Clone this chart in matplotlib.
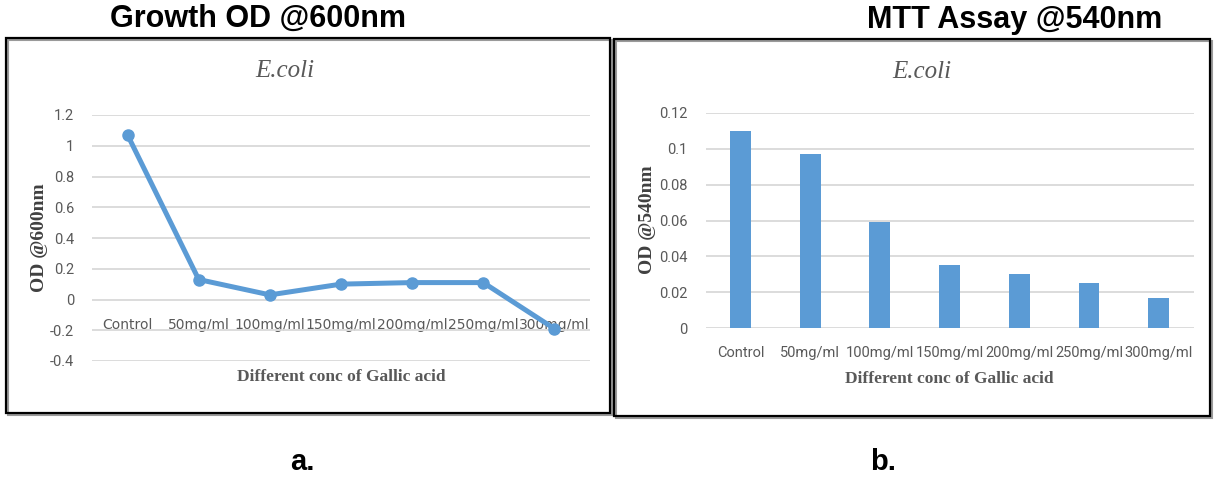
import matplotlib.pyplot as plt
from matplotlib.patches import Rectangle

# Concentrations of gallic acid and measured optical densities
categories = ["Control", "50mg/ml", "100mg/ml", "150mg/ml", "200mg/ml", "250mg/ml", "300mg/ml"]
growth_od600 = [1.07, 0.13, 0.03, 0.10, 0.11, 0.11, -0.19]
mtt_od540 = [0.110, 0.097, 0.059, 0.035, 0.030, 0.025, 0.017]

blue = "#5B9BD5"
grid_c = "#D9D9D9"
txt_c = "#595959"

tick_font = "Roboto"
serif = "Liberation Serif"
sans = "Liberation Sans"

W, H = 1214, 479
fig = plt.figure(figsize=(W / 100, H / 100), dpi=100)


def fx(px):
    return px / W


def fy(py):
    return 1 - py / H


def box(x0, y0, x1, y1):
    # gray shadow then the black frame
    fig.patches.append(Rectangle((fx(x0 + 2), fy(y1 + 2)), fx(x1 - x0), (y1 - y0) / H,
                                 transform=fig.transFigure, fill=False, ec="#9a9a9a", lw=1.5))
    fig.patches.append(Rectangle((fx(x0), fy(y1)), fx(x1 - x0), (y1 - y0) / H,
                                 transform=fig.transFigure, fill=False, ec="black", lw=1.6))


box(6, 38, 610, 413)
box(614, 39, 1210, 416)


def style_axes(ax):
    for s in ["top", "right", "left", "bottom"]:
        ax.spines[s].set_visible(False)
    ax.grid(axis="y", color=grid_c, lw=1.3)
    ax.set_axisbelow(True)
    ax.tick_params(axis="both", length=0, labelcolor=txt_c)
    for lab in ax.get_yticklabels():
        lab.set_fontfamily(tick_font)
        lab.set_fontsize(10.5)
    ax.set_xticks(range(len(categories)))
    ax.set_xticklabels(categories, fontfamily=tick_font, fontsize=10.5, color=txt_c)
    ax.set_xlim(-0.5, len(categories) - 0.5)


# a. growth curve
ax1 = fig.add_axes([fx(92), fy(361), fx(590 - 92), (361 - 115) / H])
ax1.plot(range(len(categories)), growth_od600, color=blue, lw=3.6, marker="o", ms=8)
ax1.set_ylim(-0.4, 1.2)
ax1.set_yticks([-0.4, -0.2, 0, 0.2, 0.4, 0.6, 0.8, 1, 1.2])
ax1.set_yticklabels(["-0.4", "-0.2", "0", "0.2", "0.4", "0.6", "0.8", "1", "1.2"])
style_axes(ax1)
ax1.tick_params(axis="y", pad=13)
ax1.spines["bottom"].set_position(("data", 0))
ax1.tick_params(axis="x", pad=13)

fig.text(fx(285), fy(71), "E.coli", family=serif, style="italic", fontsize=18,
         color=txt_c, ha="center", va="center")
fig.text(fx(40), fy(238), "OD @600nm", family=serif, weight="bold", fontsize=14,
         color="#404040", rotation=90, ha="center", va="center")
fig.text(fx(341), fy(377), "Different conc of Gallic acid", family=serif, weight="bold",
         fontsize=12.5, color=txt_c, ha="center", va="center")

# b. MTT assay bars
ax2 = fig.add_axes([fx(705.5), fy(328), fx(1193.6 - 705.5), (328 - 113) / H])
ax2.bar(range(len(categories)), mtt_od540, width=0.3, color=blue)
ax2.set_ylim(0, 0.12)
ax2.set_yticks([0, 0.02, 0.04, 0.06, 0.08, 0.1, 0.12])
ax2.set_yticklabels(["0", "0.02", "0.04", "0.06", "0.08", "0.1", "0.12"])
style_axes(ax2)
ax2.tick_params(axis="y", pad=13)
ax2.tick_params(axis="x", pad=13)

fig.text(fx(922), fy(72), "E.coli", family=serif, style="italic", fontsize=18,
         color=txt_c, ha="center", va="center")
fig.text(fx(647), fy(220), "OD @540nm", family=serif, weight="bold", fontsize=14,
         color="#404040", rotation=90, ha="center", va="center")
fig.text(fx(949), fy(379), "Different conc of Gallic acid", family=serif, weight="bold",
         fontsize=12.5, color=txt_c, ha="center", va="center")

# panel headings and letters
fig.text(fx(258), fy(19), "Growth OD @600nm", family=sans, weight="bold", fontsize=22,
         color="black", ha="center", va="center")
fig.text(fx(1015), fy(20), "MTT Assay @540nm", family=sans, weight="bold", fontsize=22,
         color="black", ha="center", va="center")
fig.text(fx(302), fy(462), "a.", family=sans, weight="bold", fontsize=21,
         color="black", ha="center", va="center")
fig.text(fx(883), fy(462), "b.", family=sans, weight="bold", fontsize=21,
         color="black", ha="center", va="center")

fig.savefig("out.png", dpi=100)
